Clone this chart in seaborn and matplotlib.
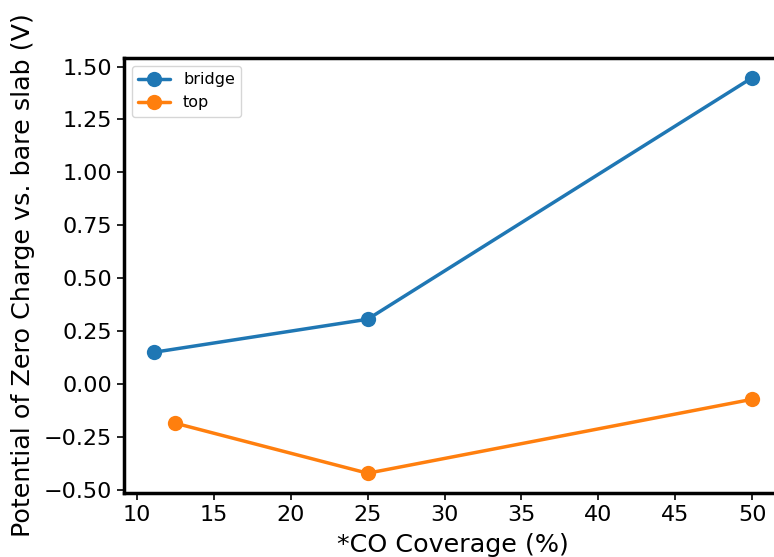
import pandas as pd
import seaborn as sns
import matplotlib
matplotlib.use('Agg')
import matplotlib.pyplot as plt

# coverage (%) and potential of zero charge shift (V)
bridge_cov = [11.1, 25, 50]
bridge_pzc = [0.151, 0.307, 1.447]
top_cov = [12.5, 25, 50]
top_pzc = [-0.184, -0.42, -0.071]

df = pd.concat([
    pd.DataFrame({'coverage': bridge_cov, 'pzc': bridge_pzc, 'site': 'bridge'}),
    pd.DataFrame({'coverage': top_cov, 'pzc': top_pzc, 'site': 'top'}),
])

sns.set_style('ticks', {'text.color': 'black', 'axes.labelcolor': 'black',
                        'xtick.color': 'black', 'ytick.color': 'black',
                        'axes.edgecolor': 'black'})
plt.rcParams['font.family'] = ['DejaVu Sans']

fig = plt.figure(figsize=(7.74, 5.57), dpi=100)
ax = fig.add_axes([124 / 774, 64 / 557, 658 / 774, 435 / 557])

sns.lineplot(data=df, x='coverage', y='pzc', hue='site',
             palette=['#1f77b4', '#ff7f0e'], marker='o', markersize=11,
             markeredgewidth=0, linewidth=2.5, ax=ax)

ax.set_xlabel('*CO Coverage (%)', fontsize=18.3, labelpad=6)
ax.set_ylabel('Potential of Zero Charge vs. bare slab (V)', fontsize=18.3, labelpad=6)
ax.set_xticks([10, 15, 20, 25, 30, 35, 40, 45, 50])
ax.set_yticks([-0.5, -0.25, 0, 0.25, 0.5, 0.75, 1.0, 1.25, 1.5])
ax.set_yticklabels(['−0.50', '−0.25', '0.00', '0.25', '0.50', '0.75', '1.00', '1.25', '1.50'])
ax.tick_params(labelsize=16, width=1.2, length=5)
for s in ax.spines.values():
    s.set_linewidth(2.5)

ax.legend(loc='upper left', fontsize=11.5, title=None, frameon=True)

fig.savefig('out.png', dpi=100)
